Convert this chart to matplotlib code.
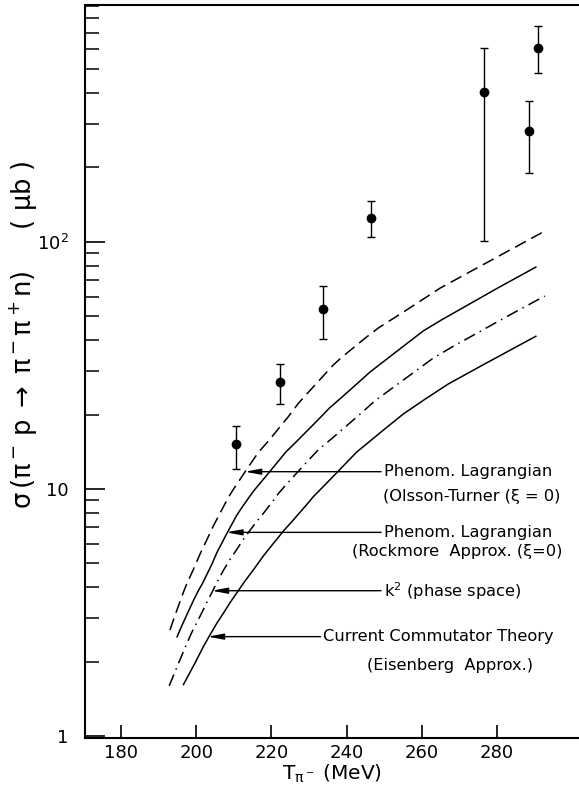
import numpy as np
import matplotlib
matplotlib.use("Agg")
import matplotlib.pyplot as plt
from matplotlib.path import Path
from matplotlib.patches import PathPatch
from matplotlib.ticker import LogLocator, FixedLocator, NullFormatter

plt.rcParams['font.family'] = ['DejaVu Sans']
plt.rcParams['mathtext.fontset'] = 'dejavusans'
plt.rcParams['mathtext.default'] = 'regular'

# measured cross sections (T in MeV, sigma in micro-barn)
t_data = [210.6, 222.4, 233.6, 246.5, 276.6, 288.6, 290.8]
sig_data = [15.2, 27.1, 53.3, 124.3, 404, 280, 609]
sig_hi = [17.9, 32.1, 66.2, 146, 605, 372, 747]
sig_lo = [12.1, 22.1, 40.3, 104.8, 101, 189, 482]

# Phenom. Lagrangian (Olsson-Turner), dashed
t_olsson = [193.0, 195.7, 199.2, 202.8, 206.3, 210.7, 222.3, 232.0, 240.9, 256.0, 273.7, 291.9]
sig_olsson = [2.69, 3.56, 4.70, 6.22, 7.97, 10.5, 17.6, 26.8, 36.7, 52.9, 76.9, 108.7]

# Phenom. Lagrangian (Rockmore), solid
t_rock = [194.8, 198.3, 202.8, 208.1, 213.4, 217.8, 229.8, 240.9, 251.5, 269.3, 290.5]
sig_rock = [2.51, 3.34, 4.42, 6.62, 9.03, 10.9, 17.3, 25.1, 34.3, 52.9, 79.2]

# k^2 phase space, dash-dot
t_k2 = [192.8, 197.4, 201.0, 204.5, 207.2, 210.7, 214.3, 218.7, 224.9, 240.0, 255.1, 271.0, 292.7]
sig_k2 = [1.60, 2.38, 3.04, 3.90, 4.70, 5.67, 6.83, 8.23, 10.9, 17.9, 27.6, 40.1, 60.3]

# current commutator theory (Eisenberg), solid
t_cct = [196.5, 200.1, 203.6, 207.2, 210.7, 215.2, 220.5, 226.7, 235.6, 249.7, 260.4, 273.7, 290.5]
sig_cct = [1.61, 2.03, 2.57, 3.14, 3.79, 4.70, 6.03, 7.73, 10.9, 17.3, 22.9, 30.3, 41.6]

xticks = [180, 200, 220, 240, 260, 280]


def smooth_curve(ax, t, s, **kw):
    # quadratic bezier through the midpoints, read points act as controls
    pts = np.column_stack([t, s])
    verts = [pts[0]]
    codes = [Path.MOVETO]
    for i in range(1, len(pts) - 1):
        mid = (pts[i] + pts[i + 1]) / 2 if i < len(pts) - 2 else pts[i + 1]
        verts += [pts[i], mid]
        codes += [Path.CURVE3, Path.CURVE3]
    patch = PathPatch(Path(verts, codes), fill=False, **kw)
    ax.add_patch(patch)


fig = plt.figure(figsize=(5.79, 7.87), dpi=100)
ax = fig.add_axes([0.1468, 0.0623, 0.8532, 0.9314])

ax.set_yscale('log')
ax.set_xlim(170.4, 301.8)
ax.set_ylim(0.985, 906)

lw = 1.1
smooth_curve(ax, t_olsson, sig_olsson, edgecolor='black', lw=lw, linestyle=(0, (8, 4)))
smooth_curve(ax, t_rock, sig_rock, edgecolor='black', lw=lw)
smooth_curve(ax, t_k2, sig_k2, edgecolor='black', lw=lw, linestyle=(0, (8, 3.5, 1, 3.5)))
smooth_curve(ax, t_cct, sig_cct, edgecolor='black', lw=lw)

yerr = [np.array(sig_data) - np.array(sig_lo), np.array(sig_hi) - np.array(sig_data)]
ax.errorbar(t_data, sig_data, yerr=yerr, fmt='o', color='black', ms=6,
            elinewidth=1.0, capsize=3.2, capthick=1.0)

ax.xaxis.set_major_locator(FixedLocator(xticks))
ax.set_xticklabels([str(t) for t in xticks])
ax.yaxis.set_major_locator(FixedLocator([1, 10, 100]))
ax.set_yticklabels(['1', '10', '$10^2$'])
ax.yaxis.set_minor_locator(LogLocator(base=10, subs=np.arange(2, 10)))
ax.yaxis.set_minor_formatter(NullFormatter())

ax.tick_params(axis='x', which='major', direction='in', length=9.5, width=1.2,
               labelsize=13, pad=4, top=False)
ax.tick_params(axis='x', which='minor', bottom=False, top=False)
ax.tick_params(axis='y', which='major', direction='in', length=14.5, width=1.2,
               labelsize=13, pad=12, right=False)
ax.tick_params(axis='y', which='minor', direction='in', length=10, width=1.1, right=False)

for side in ['left', 'bottom', 'top']:
    ax.spines[side].set_linewidth(1.5)
ax.spines['right'].set_visible(False)

ax.set_xlabel(r'$T_{\pi^-}$ (MeV)', fontsize=14.5, labelpad=1)
ax.set_ylabel(r'$\sigma\,(\pi^-\, p \;\rightarrow\; \pi^- \pi^+ n)$     ( $\mu$b )', fontsize=18.5)
ax.yaxis.set_label_coords(-0.092, 0.55)

# labels with arrows pointing to each curve
fs = 11.7
labels = [
    ('Phenom. Lagrangian', 11.75, 249.9, t_olsson, sig_olsson),
    ('Phenom. Lagrangian', 6.68, 249.9, t_rock, sig_rock),
    ('k$^2$ (phase space)', 3.88, 249.9, t_k2, sig_k2),
    ('Current Commutator Theory', 2.53, 233.8, t_cct, sig_cct),
]
for text, level, tx, tc, sc in labels:
    tip = np.interp(np.log10(level), np.log10(sc), tc) - 0.3
    ax.annotate(text, xy=(tip, level), xytext=(tx, level), fontsize=fs,
                ha='left', va='center',
                arrowprops=dict(arrowstyle='-|>,head_length=0.8,head_width=0.15',
                                color='black', lw=1.0, shrinkA=0, shrinkB=0,
                                relpos=(0, 0.5)))

ax.text(249.6, 9.31, '(Olsson-Turner (\u03be = 0)', fontsize=fs, ha='left', va='center')
ax.text(241.3, 5.58, '(Rockmore  Approx. (\u03be=0)', fontsize=fs, ha='left', va='center')
ax.text(245.3, 1.94, '(Eisenberg  Approx.)', fontsize=fs, ha='left', va='center')

fig.savefig('out.png', dpi=100)
